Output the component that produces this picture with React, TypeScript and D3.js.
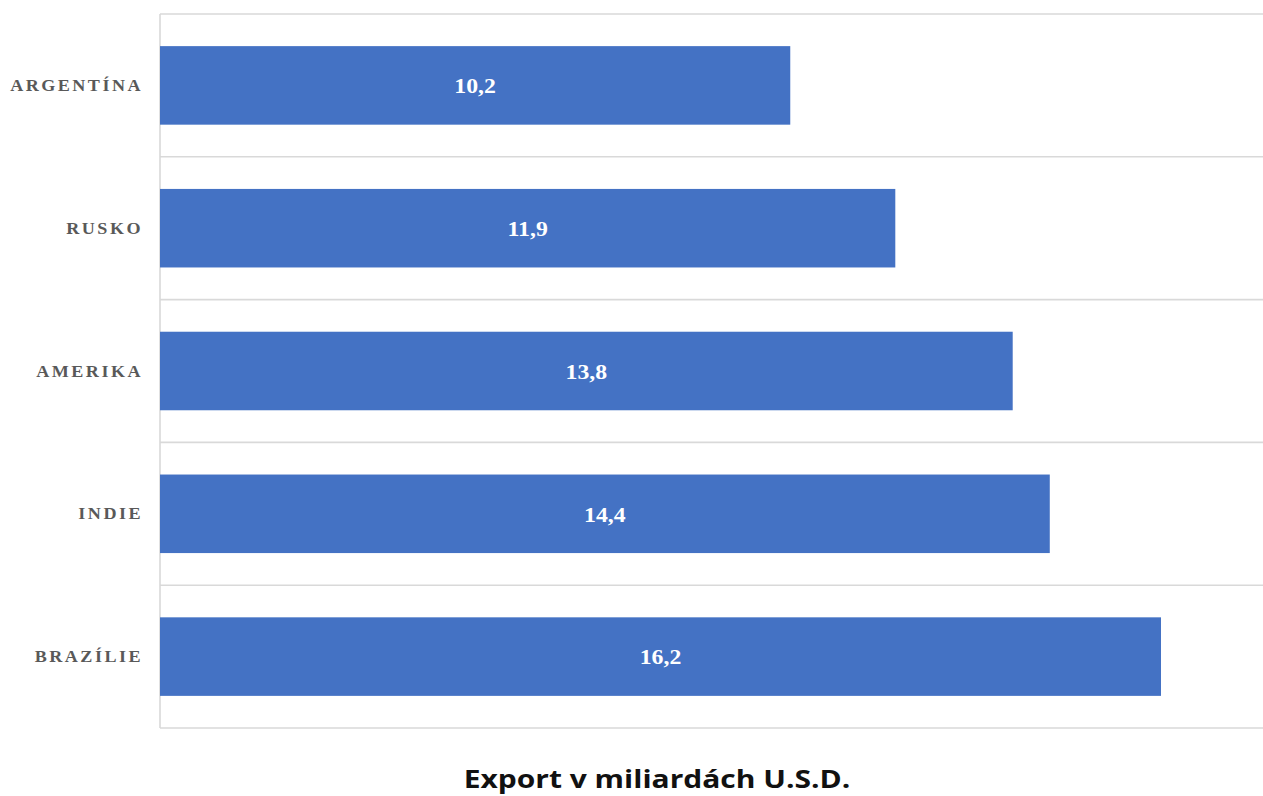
import React from "react";
import * as d3 from "d3";

const categories = ["ARGENTÍNA", "RUSKO", "AMERIKA", "INDIE", "BRAZÍLIE"];
const values = [10.2, 11.9, 13.8, 14.4, 16.2];
const valueLabels = ["10,2", "11,9", "13,8", "14,4", "16,2"];
const xAxisMax = 18;
const title = "Export v miliardách U.S.D.";

export default function App() {
  const W = 1263;
  const H = 796;
  const left = 160;
  const top = 14;
  const bottom = 728;
  const x = d3.scaleLinear().domain([0, xAxisMax]).range([left, left + xAxisMax * 61.79]);
  const y = d3
    .scaleBand<string>()
    .domain(categories)
    .range([top, bottom])
    .paddingInner(0.45)
    .paddingOuter(0.225);
  const step = y.step();
  const boundaries = d3.range(categories.length + 1).map((i) => top + i * step);

  return (
    <svg
      width={W}
      height={H}
      style={{ position: "absolute", left: 0, top: 0, display: "block", background: "#fff" }}
    >
      {boundaries.map((b, i) => (
        <line key={"g" + i} x1={left} x2={W} y1={b} y2={b} stroke="#d9d9d9" strokeWidth={1.6} />
      ))}
      <line x1={left} x2={left} y1={top} y2={bottom} stroke="#d9d9d9" strokeWidth={1.6} />
      {categories.map((c, i) => {
        const by = y(c)!;
        const bw = y.bandwidth();
        const x1 = x(values[i]);
        return (
          <g key={c}>
            <rect x={x(0)} y={by} width={x1 - x(0)} height={bw} fill="#4472C4" />
            <text
              transform={`translate(${(x(0) + x1) / 2},${by + bw / 2}) scale(1.08,1)`}
              dy="0.35em"
              textAnchor="middle"
              fill="#ffffff"
              fontFamily="'Liberation Serif', serif"
              fontWeight="bold"
              fontSize={22}
            >
              {valueLabels[i]}
            </text>
            <text
              transform={`translate(143,${by + bw / 2}) scale(1.13,1)`}
              dy="0.35em"
              textAnchor="end"
              fill="#595959"
              fontFamily="'Liberation Serif', serif"
              fontWeight="bold"
              fontSize={16}
              letterSpacing={2.2}
            >
              {c}
            </text>
          </g>
        );
      })}
      <text
        transform="translate(657,788) scale(1.2,1)"
        textAnchor="middle"
        fill="#111"
        fontFamily="'Open Sans', sans-serif"
        fontWeight="bold"
        fontSize={25}
      >
        {title}
      </text>
    </svg>
  );
}
